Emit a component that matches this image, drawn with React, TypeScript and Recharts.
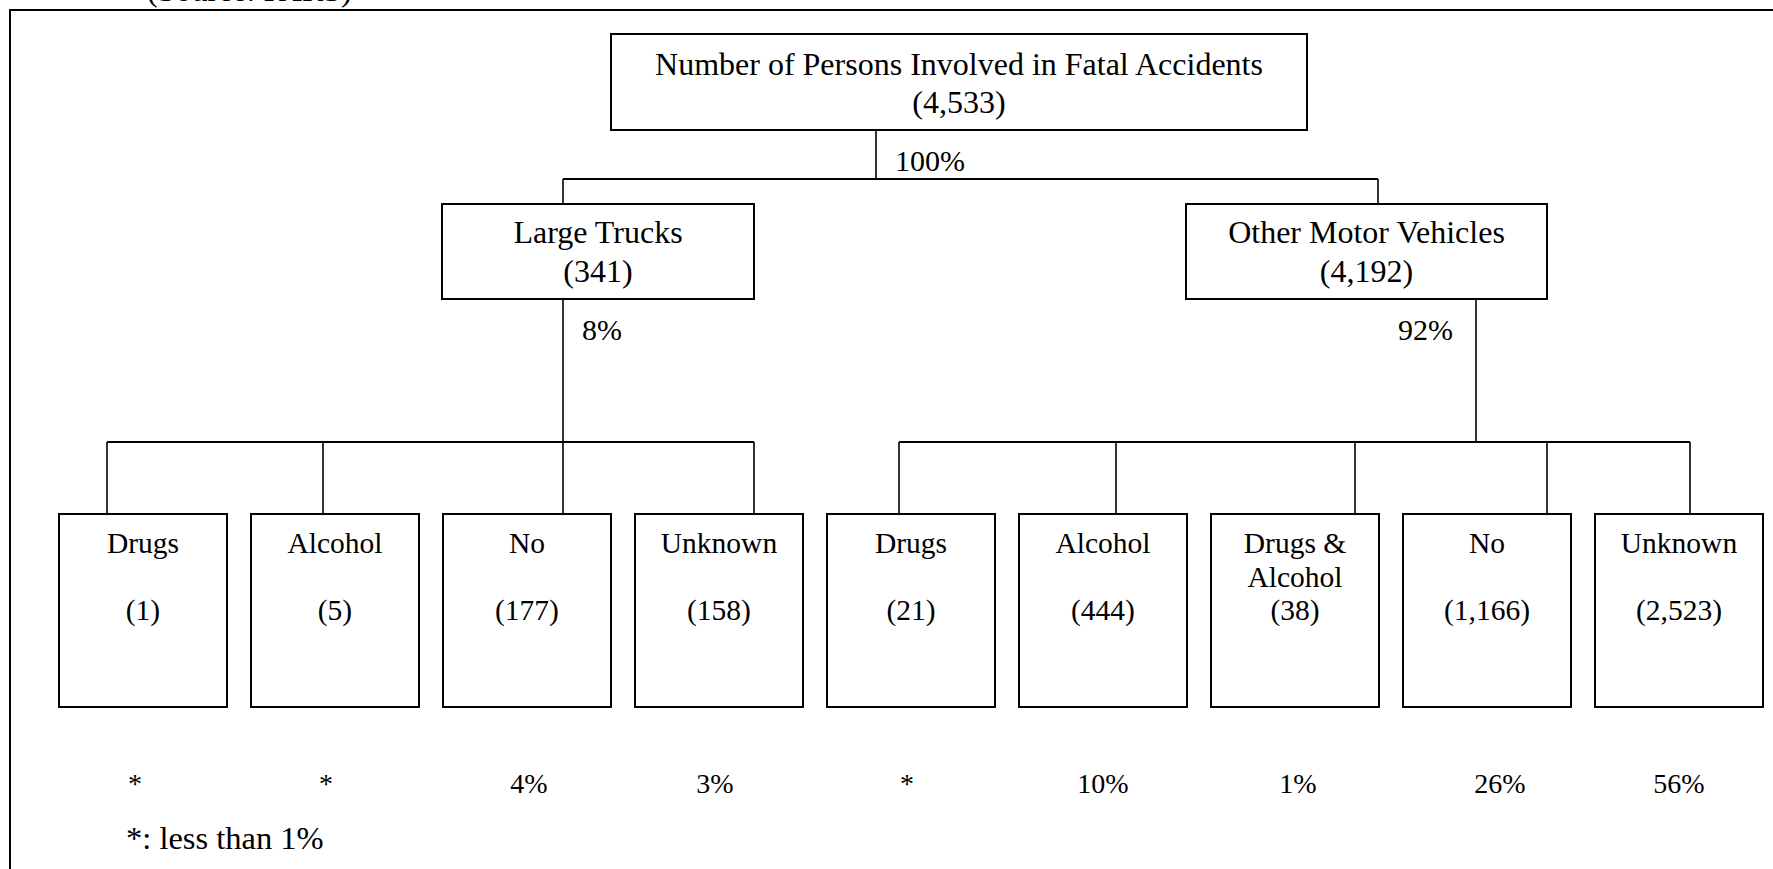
import React from "react";
import { ComposedChart, XAxis, YAxis, Scatter, ReferenceArea, ReferenceLine } from "recharts";

// tree content
const SOURCE = "(Source: FARS)";
const ROOT_LABEL = "Number of Persons Involved in Fatal Accidents";
const ROOT_COUNT = 4533;
const ROOT_PCT = "100%";
const GROUP_LABELS = ["Large Trucks", "Other Motor Vehicles"];
const GROUP_COUNTS = [341, 4192];
const GROUP_PCTS = ["8%", "92%"];
const LEAF_LABELS = [
  ["Drugs"],
  ["Alcohol"],
  ["No"],
  ["Unknown"],
  ["Drugs"],
  ["Alcohol"],
  ["Drugs &", "Alcohol"],
  ["No"],
  ["Unknown"],
];
const LEAF_COUNTS = [1, 5, 177, 158, 21, 444, 38, 1166, 2523];
const LEAF_PCTS = ["*", "*", "4%", "3%", "*", "10%", "1%", "26%", "56%"];
const LEAF_GROUP = [0, 0, 0, 0, 1, 1, 1, 1, 1];
const FOOTNOTE = "*: less than 1%";

// layout (chart units = px)
const W = 1773;
const H = 869;
const ROOT_BOX = { x1: 611, x2: 1307, y1: 34, y2: 130 };
const GROUP_BOXES = [
  { x1: 442, x2: 754, y1: 204, y2: 299 },
  { x1: 1186, x2: 1547, y1: 204, y2: 299 },
];
const ROOT_DROP_X = 876;
const BAR1_Y = 179;
const GROUP_TOP_X = [563, 1378];
const GROUP_DROP_X = [563, 1476];
const BAR2_Y = 442;
const LEAF_LEFT0 = 59;
const LEAF_PITCH = 192;
const LEAF_W = 168;
const LEAF_Y1 = 514;
const LEAF_Y2 = 707;
const LEAF_DROP_X = [107, 323, 563, 754, 899, 1116, 1355, 1547, 1690];
const PCT_SHIFT = [-8, -9, 2, -4, -4, 0, 3, 13, 0];

const FONT = "'Liberation Serif', 'Times New Roman', serif";
const fmt = (n: number) => `(${n.toLocaleString("en-US")})`;

type TextPt = { x: number; y: number; lines: string[]; size: number; anchor: string; gap: number };

const leafX = (i: number) => LEAF_LEFT0 + LEAF_PITCH * i;

const texts: TextPt[] = [
  { x: 147, y: 1, lines: [SOURCE], size: 32, anchor: "start", gap: 0 },
  { x: (ROOT_BOX.x1 + ROOT_BOX.x2) / 2, y: 75, lines: [ROOT_LABEL, fmt(ROOT_COUNT)], size: 32, anchor: "middle", gap: 38 },
  { x: ROOT_DROP_X + 19, y: 171, lines: [ROOT_PCT], size: 30, anchor: "start", gap: 0 },
  ...GROUP_BOXES.map((b, g) => ({
    x: (b.x1 + b.x2) / 2,
    y: 243,
    lines: [GROUP_LABELS[g], fmt(GROUP_COUNTS[g])],
    size: 32,
    anchor: "middle",
    gap: 39,
  })),
  { x: GROUP_DROP_X[0] + 19, y: 340, lines: [GROUP_PCTS[0]], size: 30, anchor: "start", gap: 0 },
  { x: GROUP_DROP_X[1] - 23, y: 340, lines: [GROUP_PCTS[1]], size: 30, anchor: "end", gap: 0 },
  ...LEAF_LABELS.map((l, i) => ({
    x: leafX(i) + LEAF_W / 2,
    y: 553,
    lines: l,
    size: 29.5,
    anchor: "middle",
    gap: 34,
  })),
  ...LEAF_COUNTS.map((c, i) => ({
    x: leafX(i) + LEAF_W / 2,
    y: 620,
    lines: [fmt(c)],
    size: 29.5,
    anchor: "middle",
    gap: 0,
  })),
  ...LEAF_PCTS.map((p, i) => ({
    x: leafX(i) + LEAF_W / 2 + PCT_SHIFT[i],
    y: 793,
    lines: [p],
    size: 28,
    anchor: "middle",
    gap: 0,
  })),
  { x: 126, y: 849, lines: [FOOTNOTE], size: 32.5, anchor: "start", gap: 0 },
];

const TextShape = (props: any) => {
  const { cx, cy, payload } = props;
  return (
    <text x={cx} y={cy} textAnchor={payload.anchor} fontFamily={FONT} fontSize={payload.size} fill="#000">
      {payload.lines.map((ln: string, k: number) => (
        <tspan key={k} x={cx} dy={k === 0 ? 0 : payload.gap}>
          {ln}
        </tspan>
      ))}
    </text>
  );
};

const BOX = { fill: "#fff", fillOpacity: 1, stroke: "#000", strokeWidth: 2 };
const LINE = { stroke: "#000", strokeWidth: 1.6 };

export default function App() {
  const groupBars = GROUP_BOXES.map((_, g) => {
    const xs = LEAF_DROP_X.filter((_, i) => LEAF_GROUP[i] === g);
    return { from: Math.min(...xs), to: Math.max(...xs) };
  });

  return (
    <div style={{ position: "absolute", left: 0, top: 0, width: W, height: H, background: "#fff" }}>
      <ComposedChart width={W} height={H} margin={{ top: 0, right: 0, bottom: 0, left: 0 }}>
        <XAxis type="number" dataKey="x" domain={[0, W]} allowDataOverflow hide />
        <YAxis type="number" dataKey="y" domain={[0, H]} allowDataOverflow reversed hide />

        {/* outer frame, cut by the page on the right and bottom */}
        <ReferenceArea x1={10} x2={W + 40} y1={10} y2={H + 40} ifOverflow="hidden" fill="none" stroke="#000" strokeWidth={2} />

        {/* connectors */}
        <ReferenceLine segment={[{ x: ROOT_DROP_X, y: ROOT_BOX.y2 }, { x: ROOT_DROP_X, y: BAR1_Y }]} {...LINE} />
        <ReferenceLine segment={[{ x: GROUP_TOP_X[0], y: BAR1_Y }, { x: GROUP_TOP_X[1], y: BAR1_Y }]} stroke="#000" strokeWidth={2} />
        {GROUP_BOXES.map((b, g) => (
          <ReferenceLine key={`gt${g}`} segment={[{ x: GROUP_TOP_X[g], y: BAR1_Y }, { x: GROUP_TOP_X[g], y: b.y1 }]} {...LINE} />
        ))}
        {GROUP_BOXES.map((b, g) => (
          <ReferenceLine key={`gd${g}`} segment={[{ x: GROUP_DROP_X[g], y: b.y2 }, { x: GROUP_DROP_X[g], y: BAR2_Y }]} {...LINE} />
        ))}
        {groupBars.map((gb, g) => (
          <ReferenceLine key={`gb${g}`} segment={[{ x: gb.from, y: BAR2_Y }, { x: gb.to, y: BAR2_Y }]} stroke="#000" strokeWidth={2} />
        ))}
        {LEAF_DROP_X.map((x, i) => (
          <ReferenceLine key={`ld${i}`} segment={[{ x, y: BAR2_Y }, { x, y: LEAF_Y1 }]} {...LINE} />
        ))}

        {/* boxes */}
        <ReferenceArea {...ROOT_BOX} {...BOX} />
        {GROUP_BOXES.map((b, g) => (
          <ReferenceArea key={`gbox${g}`} {...b} {...BOX} />
        ))}
        {LEAF_COUNTS.map((_, i) => (
          <ReferenceArea key={`lbox${i}`} x1={leafX(i)} x2={leafX(i) + LEAF_W} y1={LEAF_Y1} y2={LEAF_Y2} {...BOX} />
        ))}

        <Scatter data={texts} shape={TextShape} isAnimationActive={false} />
      </ComposedChart>
    </div>
  );
}
